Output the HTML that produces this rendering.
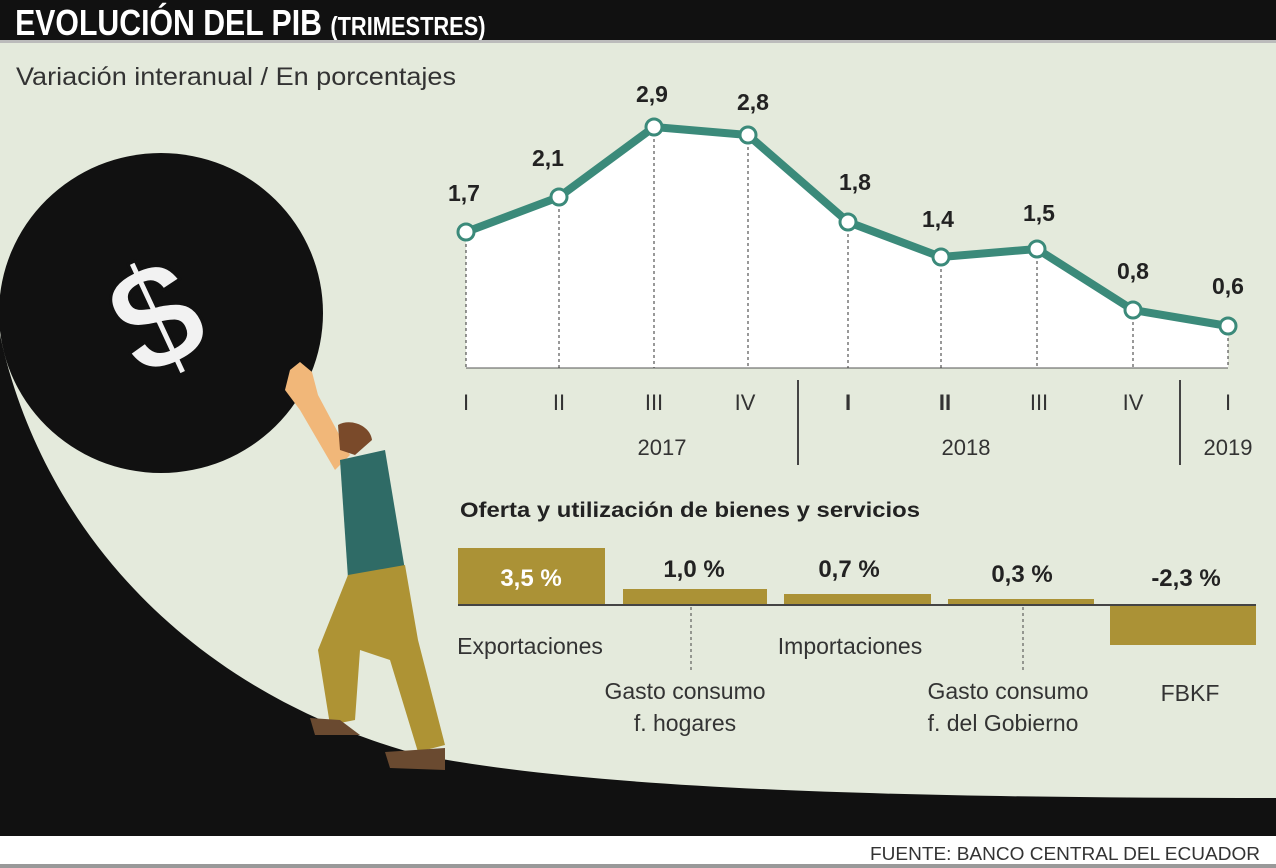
<!DOCTYPE html>
<html><head><meta charset="utf-8"><style>
html,body{margin:0;padding:0;background:#fff}
svg{display:block}
text{font-family:"Liberation Sans",sans-serif}
</style></head><body>
<svg width="1276" height="868" viewBox="0 0 1276 868" xmlns="http://www.w3.org/2000/svg">
<rect x="0" y="0" width="1276" height="868" fill="#e4eadc"/>
<rect x="0" y="0" width="1276" height="40" fill="#111"/>
<text x="18" y="35" fill="#fff" font-size="36" font-weight="bold" transform="scale(0.84,1)">EVOLUCIÓN DEL PIB <tspan font-size="26">(TRIMESTRES)</tspan></text>
<rect x="0" y="40" width="1276" height="3" fill="#bbb"/>
<text x="16" y="85" font-size="25" fill="#333" textLength="440" lengthAdjust="spacingAndGlyphs">Variación interanual / En porcentajes</text>
<!-- hill -->
<path d="M0 335 C40 520 180 690 420 755 C600 790 900 798 1276 798 L1276 836 L0 836 Z" fill="#111"/>
<rect x="0" y="836" width="1276" height="32" fill="#fff"/>
<rect x="0" y="864" width="1276" height="4" fill="#999"/>
<text x="1260" y="860" text-anchor="end" font-size="18" fill="#333" textLength="390" lengthAdjust="spacingAndGlyphs">FUENTE: BANCO CENTRAL DEL ECUADOR</text>
<!-- ball -->
<ellipse cx="161" cy="313" rx="162" ry="160" fill="#111"/>
<text x="158" y="368" text-anchor="middle" font-size="150" font-family="Liberation Serif" font-weight="bold" fill="#f2f2f2" stroke="#111" stroke-width="3" transform="rotate(-25 158 320)">$</text>
<!-- person -->
<path d="M290 370 L300 362 L312 372 L318 395 L350 455 L335 470 L300 410 L285 390 Z" fill="#f1b779"/>
<path d="M338 425 C350 418 370 425 372 440 L355 455 L340 450 Z" fill="#7a4a2a"/>
<path d="M340 460 L385 450 L405 570 L348 578 Z" fill="#2f6b66"/>
<path d="M348 575 L405 565 L418 640 L445 745 L418 752 L390 660 L360 650 L355 720 L330 725 L318 650 Z" fill="#ae9334"/>
<path d="M310 718 L340 720 L360 735 L315 735 Z" fill="#6a4a30"/>
<path d="M385 752 L445 748 L445 770 L390 768 Z" fill="#6a4a30"/>
<!-- line chart -->
<path d="M466 232 L559 197 L654 127 L748 135 L848 222 L941 257 L1037 249 L1133 310 L1228 326 L1228 368 L466 368 Z" fill="#fff"/>
<line x1="466" y1="368" x2="1228" y2="368" stroke="#555" stroke-width="1"/>
<g stroke="#333" stroke-width="1" stroke-dasharray="3,3">
<line x1="466" y1="232" x2="466" y2="368"/><line x1="559" y1="197" x2="559" y2="368"/><line x1="654" y1="127" x2="654" y2="368"/><line x1="748" y1="135" x2="748" y2="368"/><line x1="848" y1="222" x2="848" y2="368"/><line x1="941" y1="257" x2="941" y2="368"/><line x1="1037" y1="249" x2="1037" y2="368"/><line x1="1133" y1="310" x2="1133" y2="368"/><line x1="1228" y1="326" x2="1228" y2="368"/>
</g>
<polyline points="466,232 559,197 654,127 748,135 848,222 941,257 1037,249 1133,310 1228,326" fill="none" stroke="#3b8a7a" stroke-width="8" stroke-linejoin="round"/>
<g fill="#fff" stroke="#3b8a7a" stroke-width="3">
<circle cx="466" cy="232" r="8"/><circle cx="559" cy="197" r="8"/><circle cx="654" cy="127" r="8"/><circle cx="748" cy="135" r="8"/><circle cx="848" cy="222" r="8"/><circle cx="941" cy="257" r="8"/><circle cx="1037" cy="249" r="8"/><circle cx="1133" cy="310" r="8"/><circle cx="1228" cy="326" r="8"/>
</g>
<g font-size="23" font-weight="bold" fill="#222" text-anchor="middle">
<text x="464" y="201">1,7</text><text x="548" y="166">2,1</text><text x="652" y="102">2,9</text><text x="753" y="110">2,8</text><text x="855" y="190">1,8</text><text x="938" y="227">1,4</text><text x="1039" y="221">1,5</text><text x="1133" y="279">0,8</text><text x="1228" y="294">0,6</text>
</g>
<g font-size="22" fill="#333" text-anchor="middle">
<text x="466" y="410">I</text><text x="559" y="410">II</text><text x="654" y="410">III</text><text x="745" y="410">IV</text><text x="848" y="410" font-weight="bold">I</text><text x="945" y="410" font-weight="bold">II</text><text x="1039" y="410">III</text><text x="1133" y="410">IV</text><text x="1228" y="410">I</text>
<text x="662" y="455">2017</text><text x="966" y="455">2018</text><text x="1228" y="455">2019</text>
</g>
<line x1="798" y1="380" x2="798" y2="465" stroke="#444" stroke-width="2"/>
<line x1="1180" y1="380" x2="1180" y2="465" stroke="#444" stroke-width="2"/>
<!-- bars -->
<text x="460" y="517" font-size="21" font-weight="bold" fill="#222" textLength="460" lengthAdjust="spacingAndGlyphs">Oferta y utilización de bienes y servicios</text>
<g fill="#ab9236">
<rect x="458" y="548" width="147" height="57"/><rect x="623" y="589" width="144" height="16"/><rect x="784" y="594" width="147" height="11"/><rect x="948" y="599" width="146" height="6"/><rect x="1110" y="605" width="146" height="40"/>
</g>
<line x1="458" y1="605" x2="1256" y2="605" stroke="#444" stroke-width="2"/>
<g font-size="24" font-weight="bold" text-anchor="middle" fill="#222">
<text x="531" y="586" fill="#fff">3,5 %</text><text x="694" y="577">1,0 %</text><text x="849" y="577">0,7 %</text><text x="1022" y="582">0,3 %</text><text x="1186" y="586">-2,3 %</text>
</g>
<g stroke="#444" stroke-width="1" stroke-dasharray="3,3">
<line x1="691" y1="607" x2="691" y2="672"/><line x1="1023" y1="607" x2="1023" y2="672"/>
</g>
<g font-size="23" fill="#333" text-anchor="middle">
<text x="530" y="654">Exportaciones</text><text x="850" y="654">Importaciones</text>
<text x="685" y="699">Gasto consumo</text><text x="685" y="731">f. hogares</text>
<text x="1008" y="699">Gasto consumo</text><text x="1003" y="731">f. del Gobierno</text>
<text x="1190" y="701">FBKF</text>
</g>
</svg>
</body></html>
